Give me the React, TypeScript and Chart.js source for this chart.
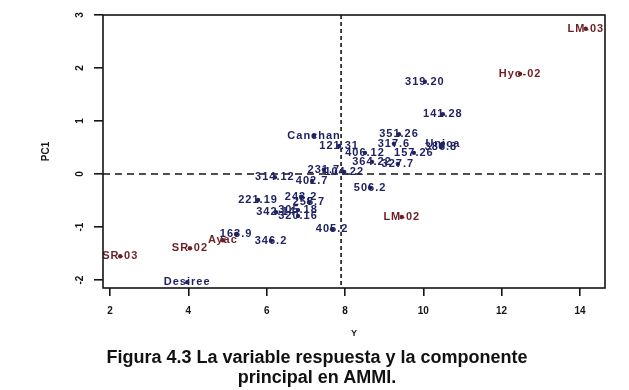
import { useEffect, useRef } from "react";
import { Chart, registerables } from "chart.js";

Chart.register(...registerables);

// Genotypes: mean response (Y) and first principal component score (PC1)
const genotypeNames = [
  "319.20", "141.28", "351.26", "317.6", "121.31", "Canchan", "Unica", "386.8",
  "406.12", "157.26", "364.22", "327.7", "231.7", "104.22", "314.12", "402.7",
  "221.19", "243.2", "255.7", "342.14", "305.18", "320.16", "405.2", "506.2",
  "163.9", "346.2", "Desiree",
];
const genotypeY = [
  10.04, 10.5, 9.38, 9.25, 7.85, 7.21, 10.5, 10.45,
  8.51, 9.76, 8.69, 9.35, 7.46, 7.98, 6.21, 7.16,
  5.78, 6.88, 7.08, 6.24, 6.8, 6.8, 7.67, 8.64,
  5.22, 6.11, 3.97,
];
const genotypePC1 = [
  1.74, 1.13, 0.75, 0.57, 0.53, 0.72, 0.57, 0.51,
  0.4, 0.4, 0.23, 0.19, 0.08, 0.04, -0.06, -0.13,
  -0.49, -0.43, -0.53, -0.72, -0.68, -0.79, -1.04, -0.26,
  -1.13, -1.26, -2.04,
];

// Environments
const environmentNames = ["LM-03", "Hyo-02", "LM-02", "Ayac", "SR-02", "SR-03"];
const environmentY = [14.15, 12.47, 9.45, 4.88, 4.04, 2.26];
const environmentPC1 = [2.74, 1.89, -0.81, -1.25, -1.4, -1.55];

const xTicks = [2, 4, 6, 8, 10, 12, 14];
const yTicks = [-2, -1, 0, 1, 2, 3];
const meanY = 7.9;

const GENO_COLOR = "#1f2263";
const ENV_COLOR = "#6e1d25";
const AXIS_COLOR = "#151515";
const FONT = '"Liberation Sans", Arial, Helvetica, sans-serif';

const labelSets = [genotypeNames, environmentNames];
const labelColors = [GENO_COLOR, ENV_COLOR];

const biplotPlugin = {
  id: "ammiBiplot",
  beforeDatasetsDraw(chart: any) {
    const { ctx, chartArea: a, scales } = chart;
    const x = scales.x;
    const y = scales.y;
    ctx.save();
    ctx.beginPath();
    ctx.rect(a.left, a.top, a.right - a.left, a.bottom - a.top);
    ctx.clip();

    // reference lines at PC1 = 0 and at the overall mean
    ctx.strokeStyle = AXIS_COLOR;
    ctx.lineWidth = 1.6;
    ctx.setLineDash([7, 5]);
    const py = y.getPixelForValue(0);
    ctx.beginPath();
    ctx.moveTo(a.left, py);
    ctx.lineTo(a.right, py);
    ctx.stroke();
    ctx.setLineDash([4, 3]);
    const px = x.getPixelForValue(meanY);
    ctx.beginPath();
    ctx.moveTo(px, a.top);
    ctx.lineTo(px, a.bottom);
    ctx.stroke();
    ctx.setLineDash([]);

    // point labels, centred on each point
    ctx.font = `bold 11px ${FONT}`;
    (ctx as any).letterSpacing = "1px";
    ctx.textAlign = "center";
    ctx.textBaseline = "middle";
    labelSets.forEach((names, i) => {
      const meta = chart.getDatasetMeta(i);
      ctx.fillStyle = labelColors[i];
      meta.data.forEach((el: any, j: number) => {
        ctx.fillText(names[j], el.x, el.y);
      });
    });
    ctx.restore();
  },
  afterDraw(chart: any) {
    const { ctx, chartArea: a, scales } = chart;
    const y = scales.y;
    ctx.save();
    ctx.strokeStyle = AXIS_COLOR;
    ctx.lineWidth = 1.6;
    ctx.strokeRect(a.left, a.top, a.right - a.left, a.bottom - a.top);

    ctx.fillStyle = AXIS_COLOR;
    ctx.textAlign = "center";
    ctx.textBaseline = "middle";
    ctx.font = `bold 10px ${FONT}`;
    yTicks.forEach((v) => {
      ctx.save();
      ctx.translate(80, y.getPixelForValue(v));
      ctx.rotate(-Math.PI / 2);
      ctx.fillText(String(v), 0, 0);
      ctx.restore();
    });

    ctx.save();
    ctx.translate(46, (a.top + a.bottom) / 2);
    ctx.rotate(-Math.PI / 2);
    ctx.fillText("PC1", 0, 0);
    ctx.restore();

    ctx.font = `bold 9px ${FONT}`;
    ctx.fillText("Y", (a.left + a.right) / 2, 334);
    ctx.restore();
  },
};

export default function App() {
  const canvasRef = useRef<HTMLCanvasElement | null>(null);

  useEffect(() => {
    const canvas = canvasRef.current;
    if (!canvas) return;
    const chart = new Chart(canvas, {
      type: "scatter",
      data: {
        datasets: [
          {
            label: "Genotipos",
            data: genotypeY.map((v, i) => ({ x: v, y: genotypePC1[i] })),
            backgroundColor: GENO_COLOR,
            borderWidth: 0,
            pointRadius: 2.2,
          },
          {
            label: "Ambientes",
            data: environmentY.map((v, i) => ({ x: v, y: environmentPC1[i] })),
            backgroundColor: ENV_COLOR,
            borderWidth: 0,
            pointRadius: 2.2,
          },
        ],
      },
      options: {
        animation: false,
        responsive: false,
        maintainAspectRatio: false,
        layout: { padding: { left: 0, top: 15, right: 24, bottom: 0 } },
        plugins: {
          legend: { display: false },
          tooltip: { enabled: false },
        },
        scales: {
          x: {
            type: "linear",
            min: 1.82,
            max: 14.64,
            afterBuildTicks: (s: any) => {
              s.ticks = xTicks.map((v) => ({ value: v }));
            },
            afterFit: (s: any) => {
              s.height = 102;
            },
            border: { display: false },
            grid: {
              drawOnChartArea: false,
              drawTicks: true,
              tickLength: 8,
              color: AXIS_COLOR,
              lineWidth: 1.6,
            },
            ticks: {
              color: AXIS_COLOR,
              padding: 9,
              maxRotation: 0,
              font: { family: FONT, size: 10, weight: "bold" },
            },
          },
          y: {
            type: "linear",
            min: -2.15,
            max: 3.0,
            afterBuildTicks: (s: any) => {
              s.ticks = yTicks.map((v) => ({ value: v }));
            },
            afterFit: (s: any) => {
              s.width = 103;
            },
            border: { display: false },
            grid: {
              drawOnChartArea: false,
              drawTicks: true,
              tickLength: 9,
              color: AXIS_COLOR,
              lineWidth: 1.6,
            },
            ticks: {
              color: "rgba(0,0,0,0)",
              font: { family: FONT, size: 10, weight: "bold" },
            },
          },
        },
      },
      plugins: [biplotPlugin],
    });
    return () => chart.destroy();
  }, []);

  return (
    <div style={{ position: "absolute", left: 0, top: 0, width: 629, height: 390, background: "#fff" }}>
      <canvas ref={canvasRef} width={629} height={390} style={{ width: 629, height: 390, display: "block" }} />
      <div
        style={{
          position: "absolute",
          left: 0,
          top: 347,
          width: 634,
          textAlign: "center",
          fontFamily: FONT,
          fontWeight: "bold",
          fontSize: 18,
          lineHeight: "20px",
          color: "#111",
          whiteSpace: "nowrap",
        }}
      >
        Figura 4.3 La variable respuesta y la componente
        <br />
        principal en AMMI.
      </div>
    </div>
  );
}
